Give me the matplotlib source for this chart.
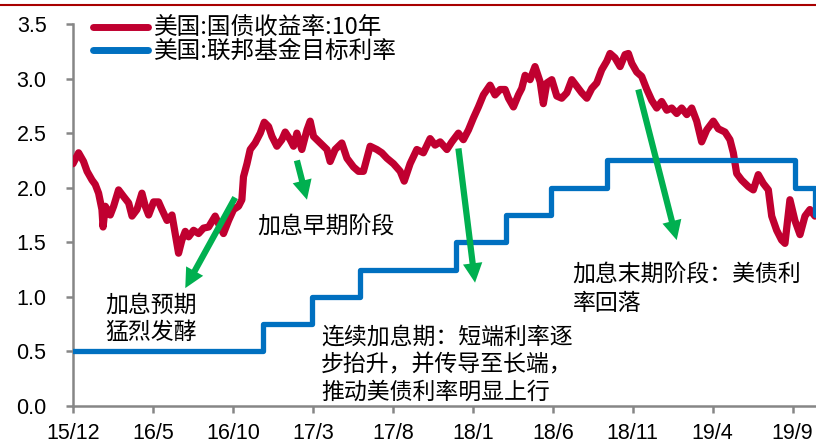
import numpy as np
import matplotlib
matplotlib.use('Agg')
import matplotlib.pyplot as plt
from matplotlib.lines import Line2D

plt.rcParams['font.family'] = ['Noto Sans CJK SC', 'DejaVu Sans']

# x = months since mid Dec 2015 (tick "15/12" at 0)
tick_pos = [0, 5, 10, 15, 20, 25, 30, 35, 40, 45]
tick_labels = ['15/12', '16/5', '16/10', '17/3', '17/8', '18/1', '18/6', '18/11', '19/4', '19/9']

# US 10y treasury yield
t_yield = [0.0, 0.35, 0.66, 0.88, 1.19, 1.39, 1.6, 1.81, 1.88, 2.02,
           2.33, 2.54, 2.85, 3.16, 3.48, 3.69, 4.0, 4.31, 4.52, 4.73,
           5.04, 5.35, 5.56, 5.88, 6.19, 6.39, 6.6, 6.81, 7.02, 7.23,
           7.54, 7.85, 8.16, 8.48, 8.89, 9.1, 9.41, 9.73, 10.04, 10.35,
           10.56, 10.66, 10.88, 11.08, 11.39, 11.71, 11.96, 12.23, 12.44, 12.75,
           13.06, 13.27, 13.58, 13.79, 14.0, 14.31, 14.63, 14.83, 15.04, 15.46,
           15.88, 16.08, 16.39, 16.81, 17.13, 17.54, 17.85, 18.16, 18.58, 19.0,
           19.31, 19.63, 20.04, 20.46, 20.71, 21.08, 21.5, 21.91, 22.33, 22.64,
           22.96, 23.38, 23.69, 24.1, 24.41, 24.73, 25.04, 25.35, 25.66, 26.08,
           26.39, 26.71, 27.02, 27.23, 27.54, 27.85, 28.06, 28.27, 28.58, 28.89,
           29.21, 29.41, 29.63, 29.94, 30.25, 30.56, 30.88, 31.19, 31.5, 31.81,
           32.13, 32.44, 32.75, 33.06, 33.38, 33.58, 33.89, 34.21, 34.52, 34.73,
           34.94, 35.25, 35.56, 35.88, 36.19, 36.5, 36.81, 37.13, 37.44, 37.75,
           38.06, 38.38, 38.69, 39.0, 39.31, 39.63, 40.04, 40.35, 40.77, 41.08,
           41.29, 41.5, 41.81, 42.23, 42.54, 42.85, 43.16, 43.48, 43.69, 44.0,
           44.31, 44.52, 44.83, 45.14, 45.46, 45.77, 46.08, 46.39]
yield_10y = [2.22, 2.32, 2.24, 2.15, 2.07, 2.03, 1.95, 1.80, 1.64, 1.83,
             1.75, 1.83, 1.98, 1.92, 1.86, 1.74, 1.80, 1.95, 1.83, 1.75,
             1.87, 1.87, 1.80, 1.70, 1.75, 1.58, 1.40, 1.52, 1.60, 1.55,
             1.61, 1.58, 1.63, 1.64, 1.74, 1.67, 1.58, 1.70, 1.80, 1.83,
             1.89, 2.10, 2.22, 2.35, 2.41, 2.50, 2.60, 2.56, 2.47, 2.38,
             2.44, 2.51, 2.44, 2.38, 2.50, 2.35, 2.53, 2.61, 2.47, 2.41,
             2.35, 2.24, 2.35, 2.41, 2.27, 2.19, 2.15, 2.15, 2.38, 2.35,
             2.32, 2.27, 2.22, 2.15, 2.06, 2.22, 2.35, 2.32, 2.45, 2.39,
             2.42, 2.35, 2.42, 2.50, 2.44, 2.53, 2.64, 2.74, 2.85, 2.94,
             2.85, 2.90, 2.90, 2.82, 2.74, 2.85, 2.91, 3.03, 2.99, 3.11,
             2.97, 2.77, 2.96, 2.99, 2.84, 2.82, 2.87, 2.99, 2.93, 2.87,
             2.82, 2.91, 2.96, 3.08, 3.16, 3.23, 3.19, 3.11, 3.22, 3.23,
             3.14, 3.06, 3.02, 2.90, 2.80, 2.73, 2.79, 2.71, 2.73, 2.68,
             2.73, 2.67, 2.73, 2.61, 2.42, 2.53, 2.61, 2.54, 2.51, 2.44,
             2.32, 2.13, 2.07, 2.01, 1.98, 2.12, 2.04, 1.98, 1.74, 1.61,
             1.52, 1.49, 1.89, 1.70, 1.57, 1.74, 1.80, 1.74]

# Fed funds target rate (as drawn)
t_fed = [0, 11.9, 14.96, 17.96, 23.96, 27.08, 29.9, 33.39, 45.15, 46.4, 46.6]
fed_rate = [0.5, 0.75, 1.0, 1.25, 1.5, 1.75, 2.0, 2.25, 2.0, 1.75, 1.75]

RED = '#C00030'
BLUE = '#0070C0'
GREEN = '#00B050'
GREY = '#868686'

fig = plt.figure(figsize=(8.16, 4.43), dpi=100)
ax = fig.add_axes([73/816, 37/443, 743/816, 382/443])

ax.plot(t_yield, yield_10y, color=RED, lw=5.2, solid_joinstyle='round',
        solid_capstyle='round', label='美国:国债收益率:10年', zorder=3)
ax.plot(t_fed, fed_rate, drawstyle='steps-post', color=BLUE, lw=3.8,
        label='美国:联邦基金目标利率', zorder=4)

ax.set_xlim(0, 46.46)
ax.set_ylim(0, 3.5)
ax.set_xticks(tick_pos)
ax.set_xticklabels(tick_labels)
ax.set_yticks(np.arange(0, 3.51, 0.5))
ax.set_yticklabels([f'{v:.1f}' for v in np.arange(0, 3.51, 0.5)])
for s in ['top', 'right']:
    ax.spines[s].set_visible(False)
for s in ['left', 'bottom']:
    ax.spines[s].set_color(GREY)
    ax.spines[s].set_linewidth(1.8)
ax.tick_params(axis='both', length=5, width=1.8, color=GREY, labelsize=15.5)
ax.tick_params(axis='y', pad=14)
ax.tick_params(axis='x', pad=7)
for lab in ax.get_xticklabels() + ax.get_yticklabels():
    lab.set_fontfamily(['Liberation Sans', 'DejaVu Sans'])

leg = ax.legend(loc='upper left', bbox_to_anchor=(93/816, 1 - 17/443),
                bbox_transform=fig.transFigure, frameon=False, fontsize=17,
                handlelength=2.35, handletextpad=0.25, labelspacing=0.0,
                borderpad=0, borderaxespad=0)
for line in leg.get_lines():
    line.set_linewidth(5)
    line.set_solid_capstyle('round')

# arrows
arrow_kw = dict(arrowstyle='simple,head_width=1.4,head_length=1.4,tail_width=0.45',
                color=GREEN, lw=0)
arrows = [((10.14, 1.91), (7.02, 1.08)),
          ((14.0, 2.25), (14.63, 1.89)),
          ((24.1, 2.36), (25.14, 1.13)),
          ((35.35, 2.90), (37.75, 1.52))]
for start, end in arrows:
    ax.annotate('', xy=end, xytext=start,
                arrowprops=dict(**arrow_kw, shrinkA=0, shrinkB=0), zorder=5)

txt_kw = dict(fontsize=16.5, color='black', ha='left', va='center', linespacing=1.27)
ax.text(2.02, 0.80, '加息预期\n猛烈发酵', **txt_kw)
ax.text(11.5, 1.636, '加息早期阶段', **txt_kw)
ax.text(15.5, 0.38, '连续加息期：短端利率逐\n步抬升，并传导至长端，\n推动美债利率明显上行', **txt_kw)
ax.text(31.25, 1.07, '加息末期阶段：美债利\n率回落', **txt_kw)

fig.add_artist(Line2D([0, 1], [1 - 5/443, 1 - 5/443], color='#A80000', lw=1.5))

fig.savefig('out.png', dpi=100)
